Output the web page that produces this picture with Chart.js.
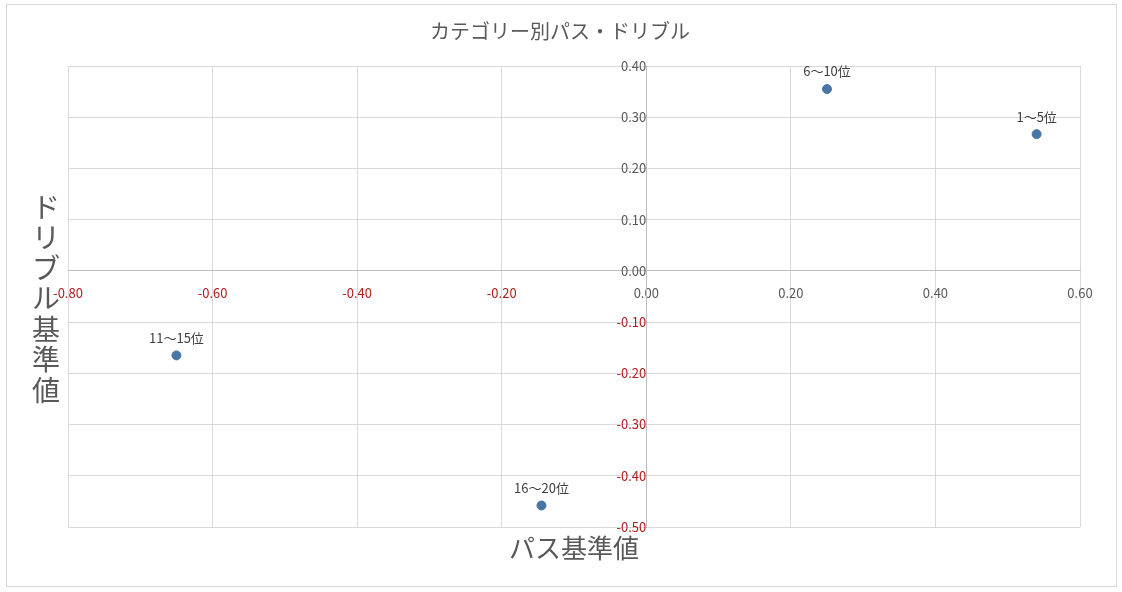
<!DOCTYPE html>
<html>
<head>
<meta charset="utf-8">
<script src="https://cdn.jsdelivr.net/npm/chart.js@4"></script>
<style>
  body { margin: 0; background: #fff; }
</style>
</head>
<body>
<canvas id="chart" width="1122" height="592"></canvas>
<script>
'use strict';

// Data
let groupNames = ['1～5位', '6～10位', '11～15位', '16～20位'];
let passValues = [0.54, 0.25, -0.65, -0.145];
let dribbleValues = [0.267, 0.355, -0.165, -0.458];

// Tick values for both axes
let xTickValues = [-0.8, -0.6, -0.4, -0.2, 0, 0.2, 0.4, 0.6];
let yTickValues = [-0.5, -0.4, -0.3, -0.2, -0.1, 0, 0.1, 0.2, 0.3, 0.4];

let chartTitle = 'カテゴリー別パス・ドリブル';
let xTitle = 'パス基準値';
let yTitle = 'ドリブル基準値';

let fontFamily = '"Noto Sans CJK JP", "Noto Sans", sans-serif';

let points = [];
for (let i = 0; i < groupNames.length; i++) {
  points.push({ x: passValues[i], y: dribbleValues[i] });
}

function tickColor(ctx) {
  return ctx.tick && ctx.tick.value < 0 ? '#b01c1c' : '#595959';
}

// draws the outer frame, the titles and the point labels
let decorations = {
  id: 'decorations',
  beforeDraw(chart) {
    let ctx = chart.ctx;
    ctx.save();
    ctx.fillStyle = '#fff';
    ctx.fillRect(0, 0, chart.width, chart.height);
    ctx.strokeStyle = '#d9d9d9';
    ctx.lineWidth = 1;
    ctx.strokeRect(6.5, 4.5, 1110, 582);
    ctx.restore();
  },
  afterDraw(chart) {
    let ctx = chart.ctx;
    let area = chart.chartArea;
    ctx.save();
    ctx.fillStyle = '#595959';
    ctx.textAlign = 'center';
    ctx.textBaseline = 'middle';

    ctx.font = '20px ' + fontFamily;
    ctx.fillText(chartTitle, 560, 31);

    ctx.font = '26px ' + fontFamily;
    ctx.fillText(xTitle, (area.left + area.right) / 2, 548);

    // vertical title, one upright character per line
    let chars = Array.from(yTitle);
    ctx.font = '28px ' + fontFamily;
    for (let i = 0; i < chars.length; i++) {
      ctx.fillText(chars[i], 46, 207 + i * 30.5);
    }

    // point labels
    let meta = chart.getDatasetMeta(0);
    ctx.font = '13px ' + fontFamily;
    ctx.fillStyle = '#404040';
    ctx.textBaseline = 'bottom';
    meta.data.forEach(function (pt, i) {
      ctx.fillText(groupNames[i], pt.x, pt.y - 11);
    });
    ctx.restore();
  }
};

new Chart(document.getElementById('chart'), {
  type: 'scatter',
  data: {
    datasets: [{
      label: 'カテゴリー',
      data: points,
      backgroundColor: '#4a76a6',
      borderColor: '#4a76a6',
      pointRadius: 4.5,
      pointHoverRadius: 4.5
    }]
  },
  options: {
    responsive: false,
    animation: false,
    devicePixelRatio: 1,
    layout: {
      padding: { left: 68, top: 66, right: 42, bottom: 65 }
    },
    scales: {
      x: {
        type: 'linear',
        position: { y: 0 },
        min: -0.8,
        max: 0.6,
        afterBuildTicks: function (scale) {
          scale.ticks = xTickValues.map(function (v) { return { value: v }; });
        },
        grid: { color: '#d9d9d9', drawTicks: false },
        border: { color: '#bfbfbf' },
        ticks: {
          padding: 14,
          maxRotation: 0,
          autoSkip: false,
          color: tickColor,
          font: { family: fontFamily, size: 13 },
          callback: function (v) { return v.toFixed(2); }
        }
      },
      y: {
        type: 'linear',
        position: { x: 0 },
        min: -0.5,
        max: 0.4,
        afterBuildTicks: function (scale) {
          scale.ticks = yTickValues.map(function (v) { return { value: v }; });
        },
        grid: { color: '#d9d9d9', drawTicks: false },
        border: { color: '#bfbfbf' },
        ticks: {
          padding: 16,
          autoSkip: false,
          color: tickColor,
          font: { family: fontFamily, size: 13 },
          callback: function (v) { return v.toFixed(2); }
        }
      }
    },
    plugins: {
      legend: { display: false },
      title: { display: false },
      tooltip: { enabled: false }
    }
  },
  plugins: [decorations]
});
</script>
</body>
</html>
